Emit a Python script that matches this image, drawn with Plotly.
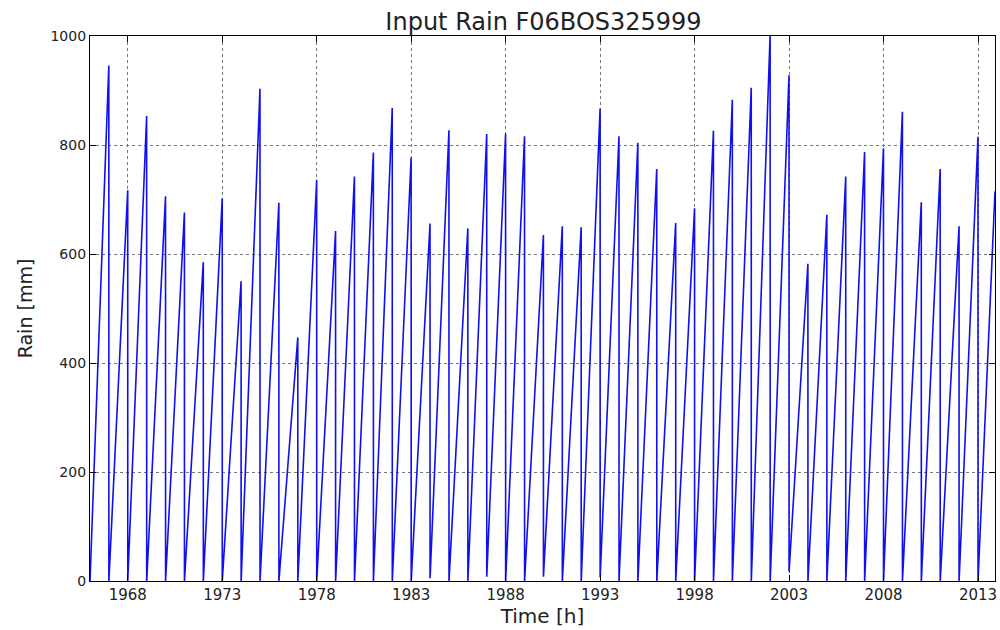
import plotly.graph_objects as go

# calendar years and cumulative rain at the end of each year [mm]
years = list(range(1966, 2014))
totals = [946, 717, 853, 706, 676, 585, 702, 550, 903, 694,
          447, 736, 642, 742, 786, 868, 777, 656, 827, 647,
          820, 821, 816, 635, 651, 649, 867, 816, 804, 756,
          657, 684, 826, 883, 905, 1003, 928, 582, 672, 742,
          787, 794, 861, 695, 756, 651, 815, 715]
# cumulative rain on 1 January (rain on the first day)
first_day = [0, 0, 0, 0, 0, 0, 0, 0, 0, 0,
             0, 0, 0, 0, 0, 0, 0, 0, 5, 0,
             0, 8, 0, 0, 8, 0, 0, 7, 0, 0,
             0, 0, 0, 0, 0, 0, 0, 17, 0, 0,
             0, 0, 0, 0, 0, 0, 0, 0]
last_date = "2013-11-25"  # record ends part way through 2013

x, y = [], []
for yr, start, total in zip(years, first_day, totals):
    x.append(f"{yr}-01-01")
    y.append(start)
    x.append(f"{yr}-12-31" if yr < years[-1] else last_date)
    y.append(total)

fig = go.Figure()
fig.add_trace(go.Scatter(x=x, y=y, mode="lines",
                         line=dict(color="#1010ee", width=1.6),
                         showlegend=False))

font = "DejaVu Sans, sans-serif"
axis_common = dict(showline=True, linecolor="black", linewidth=1.2, mirror="ticks",
                   ticks="inside", ticklen=6, tickcolor="black",
                   showgrid=True, gridcolor="#777777", griddash="dot", gridwidth=1,
                   zeroline=False)

fig.update_layout(
    width=1000, height=630,
    margin=dict(l=90, r=3, t=36, b=49),
    plot_bgcolor="white", paper_bgcolor="white",
    title=dict(text="Input Rain F06BOS325999", x=0.5435, xanchor="center",
               y=0.966, yanchor="middle",
               font=dict(family=font, size=24, color="#222")),
)
fig.update_xaxes(type="date", range=["1966-01-01", last_date],
                 tick0="1968-01-01", dtick="M60", tickformat="%Y",
                 tickfont=dict(family=font, size=15, color="#222"),
                 title=dict(text="Time [h]", font=dict(family=font, size=20, color="#222"),
                            standoff=4),
                 **axis_common)
fig.update_yaxes(range=[0, 1000], dtick=200,
                 tickfont=dict(family=font, size=14, color="#222"),
                 title=dict(text="Rain [mm]", font=dict(family=font, size=19, color="#222"),
                            standoff=12),
                 **axis_common)

# drop the default page margin so the figure fills the window exactly
fig.write_html("out.html", config={"displayModeBar": False},
               post_script="document.body.style.margin='0';"
                           "document.body.style.overflow='hidden';")
